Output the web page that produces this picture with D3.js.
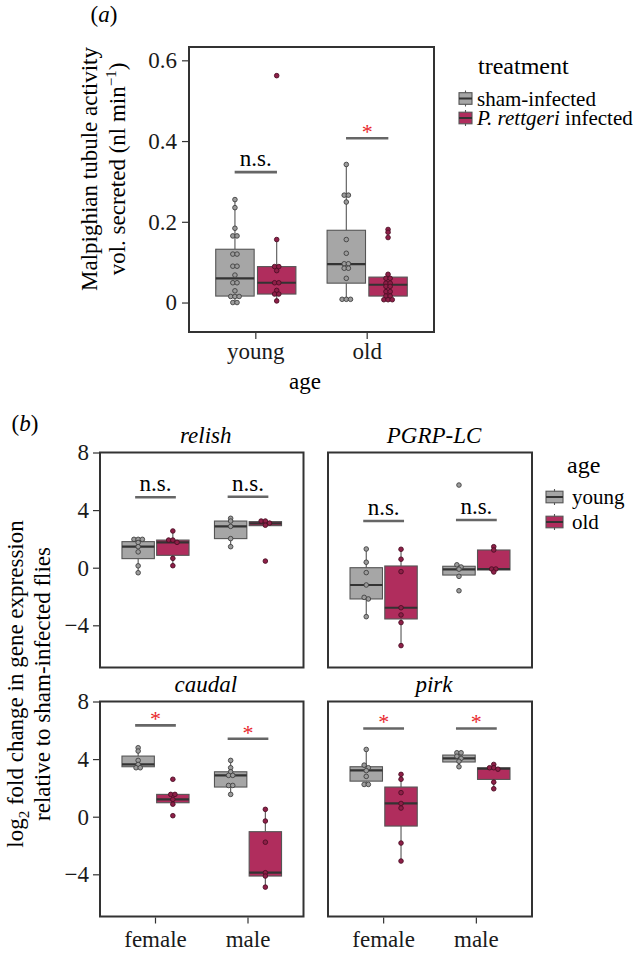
<!DOCTYPE html>
<html><head><meta charset="utf-8">
<script src="https://cdn.jsdelivr.net/npm/d3@7"></script>
<style>body{margin:0;background:#fff}svg{display:block}</style>
</head><body>
<svg id="c" width="638" height="954"></svg>
<script>
// ---------- data: panel (a) ----------
const ageCats = ["young", "old"];
const treatments = ["sham-infected", "P. rettgeri infected"];
const tubuleTicks = [0, 0.2, 0.4, 0.6];
// points
const tubuleYoungSham = [0.255, 0.235, 0.184, 0.165, 0.165, 0.12, 0.12, 0.09, 0.09, 0.068, 0.049, 0.049, 0.029, 0.015, 0.015, 0.015, 0.0, 0.0];
const tubuleYoungInf = [0.562, 0.156, 0.089, 0.089, 0.079, 0.049, 0.049, 0.030, 0.021, 0.021, 0.004];
const tubuleOldSham = [0.342, 0.266, 0.266, 0.249, 0.156, 0.122, 0.096, 0.096, 0.085, 0.085, 0.060, 0.008, 0.008, 0.008];
const tubuleOldInf = [0.181, 0.174, 0.161, 0.070, 0.060, 0.060, 0.048, 0.048, 0.040, 0.040, 0.027, 0.027, 0.016, 0.016, 0.007, 0.007, 0.007];
// box stats: [lower whisker, q1, median, q3, upper whisker]
const tubuleBoxYoungSham = [0.0, 0.016, 0.060, 0.132, 0.255];
const tubuleBoxYoungInf = [0.004, 0.021, 0.049, 0.089, 0.156];
const tubuleBoxOldSham = [0.008, 0.048, 0.095, 0.179, 0.342];
const tubuleBoxOldInf = [0.007, 0.016, 0.044, 0.063, 0.070];
const tubuleSigLabels = ["n.s.", "*"];
const tubuleSigY = [0.323, 0.407];

// ---------- data: panel (b) ----------
const genes = ["relish", "PGRP-LC", "caudal", "pirk"];
const sexes = ["female", "male"];
const ages = ["young", "old"];
const geneTicks = [-4, 0, 4, 8];
// order of groups: female-young, female-old, male-young, male-old
const relishPoints = [[1.97, 1.97, 1.97, 1.75, 1.46, 1.1, 0.13, -0.35], [2.55, 1.92, 1.92, 1.76, 0.65, 0.14], [3.43, 3.24, 2.87, 2.02, 1.46], [3.24, 3.24, 3.1, 2.95, 0.46]];
const relishBoxes = [[-0.35, 0.63, 1.46, 1.81, 1.97], [0.14, 0.86, 1.76, 1.92, 2.55], [1.46, 2.02, 2.87, 3.24, 3.43], [2.9, 2.92, 3.08, 3.2, 3.24]];
const pgrpPoints = [[1.3, 0.38, -0.34, -1.2, -2.06, -2.17, -3.4], [1.28, 0.59, -0.27, -2.78, -3.28, -3.81, -5.41], [5.74, 0.2, 0.05, -0.1, -0.6, -1.6], [1.46, 1.23, -0.09, -0.09, -0.3]];
const pgrpBoxes = [[-3.4, -2.17, -1.2, 0.0, 1.3], [-5.41, -3.56, -2.78, 0.12, 1.28], [-0.6, -0.51, -0.11, 0.1, 0.2], [-0.3, -0.16, -0.09, 1.23, 1.46]];
const caudalPoints = [[4.79, 4.56, 3.91, 3.63, 3.4, 3.4], [2.6, 1.55, 1.55, 1.2, 0.87, 0.07], [3.91, 3.4, 3.12, 2.87, 2.87, 2.17, 2.17, 1.55], [0.51, -0.3, -1.77, -3.89, -4.12, -4.89]];
const caudalBoxes = [[3.4, 3.47, 3.63, 4.21, 4.79], [0.87, 0.97, 1.2, 1.55, 1.55], [1.55, 2.06, 2.87, 3.12, 3.91], [-4.89, -4.12, -3.89, -1.04, 0.51]];
const pirkPoints = [[4.67, 3.58, 3.4, 3.2, 2.8, 2.24, 2.24], [2.94, 2.6, 1.67, 0.92, 0.6, -1.83, -3.08], [4.44, 4.44, 4.2, 4.05, 3.85, 3.47], [3.63, 3.4, 3.4, 3.3, 2.4, 1.94]];
const pirkBoxes = [[2.24, 2.47, 3.22, 3.47, 4.67], [-3.08, -0.65, 0.92, 2.06, 2.94], [3.47, 3.8, 4.05, 4.28, 4.44], [1.94, 2.59, 3.33, 3.4, 3.63]];
const geneSigLabels = [["n.s.", "n.s."], ["n.s.", "n.s."], ["*", "*"], ["*", "*"]];
const geneSigY = [[4.89, 4.93], [3.24, 3.31], [6.34, 5.41], [6.13, 6.13]];

// ---------- styles ----------
const FONT = '"Liberation Serif", monospace';
const fills = ["#a6a6a6", "#b02d5d"];
const ptFill = ["#9c9c9c", "#8e1f48"];
const ptStroke = ["#3f3f3f", "#4d0f25"];
const boxStroke = "#555555";
const medStroke = "#333333";
const sigStroke = "#666666";
const starCol = "#e8262b";

const svg = d3.select("#c");
svg.append("rect").attr("width", 638).attr("height", 954).attr("fill", "#fff");

function txt(g, x, y, size, s) {
  return g.append("text").attr("x", x).attr("y", y).attr("font-size", size)
    .attr("font-family", FONT).text(s);
}

function swarm(vals, y, spacing) {
  const items = vals.map((v, i) => ({ v, i, py: y(v) })).sort((a, b) => a.py - b.py);
  const offs = new Array(vals.length).fill(0);
  let row = [];
  const flush = () => {
    const n = row.length;
    row.forEach((it, k) => { offs[it.i] = (k - (n - 1) / 2) * spacing; });
    row = [];
  };
  items.forEach(it => {
    if (row.length && it.py - row[0].py > 2.6) flush();
    row.push(it);
  });
  flush();
  return offs;
}

function drawBox(g, cx, w, y, st, ti, pts, spacing) {
  g.append("line").attr("x1", cx).attr("x2", cx).attr("y1", y(st[0])).attr("y2", y(st[1]))
    .attr("stroke", boxStroke).attr("stroke-width", 1.1);
  g.append("line").attr("x1", cx).attr("x2", cx).attr("y1", y(st[3])).attr("y2", y(st[4]))
    .attr("stroke", boxStroke).attr("stroke-width", 1.1);
  g.append("rect").attr("x", cx - w / 2).attr("width", w)
    .attr("y", y(st[3])).attr("height", Math.max(0.5, y(st[1]) - y(st[3])))
    .attr("fill", fills[ti]).attr("stroke", boxStroke).attr("stroke-width", 1.1);
  g.append("line").attr("x1", cx - w / 2).attr("x2", cx + w / 2).attr("y1", y(st[2])).attr("y2", y(st[2]))
    .attr("stroke", medStroke).attr("stroke-width", 2.2);
  const offs = swarm(pts, y, spacing);
  g.selectAll(null).data(pts).enter().append("circle")
    .attr("cx", (d, i) => cx + offs[i]).attr("cy", d => y(d)).attr("r", 2.3)
    .attr("fill", ptFill[ti]).attr("stroke", ptStroke[ti]).attr("stroke-width", 0.9);
}

function sig(g, x1, x2, yy, label) {
  g.append("line").attr("x1", x1).attr("x2", x2).attr("y1", yy).attr("y2", yy)
    .attr("stroke", sigStroke).attr("stroke-width", 2.6);
  if (label === "*") {
    txt(g, (x1 + x2) / 2, yy + 1, 22, "*").attr("text-anchor", "middle").attr("fill", starCol);
  } else {
    txt(g, (x1 + x2) / 2, yy - 6, 23, label).attr("text-anchor", "middle").attr("fill", "#000");
  }
}

// custom axis drawing via d3 axis generators, text restyled afterwards
function styleAxis(ax, fs) {
  ax.attr("font-family", FONT).attr("font-size", fs);
  ax.select(".domain").remove();
  ax.selectAll(".tick line").attr("stroke", "#333").attr("stroke-width", 1.2);
  ax.selectAll(".tick text").attr("font-family", FONT).attr("font-size", fs).attr("fill", "#1a1a1a");
}

// ---------- panel (a) ----------
const aL = 189, aR = 434, aT = 47, aB = 332;
const xa = d3.scaleBand().domain(ageCats).range([aL, aR]).paddingInner(0).paddingOuter(0.1);
const bwA = xa.bandwidth();
const xaSub = d3.scaleBand().domain(treatments).range([-0.375 * bwA, 0.375 * bwA]);
const ya = d3.scaleLinear().domain([-0.073, 0.633]).range([aB, aT]);
const gA = svg.append("g");

const tubulePoints = [[tubuleYoungSham, tubuleYoungInf], [tubuleOldSham, tubuleOldInf]];
const tubuleBoxes = [[tubuleBoxYoungSham, tubuleBoxYoungInf], [tubuleBoxOldSham, tubuleBoxOldInf]];
ageCats.forEach((a, ai) => {
  treatments.forEach((t, ti) => {
    const cx = xa(a) + bwA / 2 + xaSub(t) + xaSub.bandwidth() / 2;
    drawBox(gA, cx, 0.345 * bwA, ya, tubuleBoxes[ai][ti], ti, tubulePoints[ai][ti], 4.2);
  });
  const c = xa(a) + bwA / 2;
  sig(gA, c - 0.19 * bwA, c + 0.19 * bwA, ya(tubuleSigY[ai]), tubuleSigLabels[ai]);
});
gA.append("rect").attr("x", aL).attr("y", aT).attr("width", aR - aL).attr("height", aB - aT)
  .attr("fill", "none").attr("stroke", "#333").attr("stroke-width", 2);
const axA = gA.append("g").attr("transform", `translate(${aL - 1},0)`)
  .call(d3.axisLeft(ya).tickValues(tubuleTicks).tickSize(6).tickPadding(5)
    .tickFormat(d => d === 0 ? "0" : d3.format(".1f")(d)));
styleAxis(axA, 23);
const axAx = gA.append("g").attr("transform", `translate(0,${aB + 1})`)
  .call(d3.axisBottom(xa).tickSize(6).tickPadding(4));
styleAxis(axAx, 23);
axAx.selectAll(".tick text").attr("dy", null).attr("y", 26);
txt(gA, 305, 389, 23, "age").attr("text-anchor", "middle");
// y label
gA.append("text").attr("transform", "translate(97,169) rotate(-90)")
  .attr("text-anchor", "middle").attr("font-family", FONT).attr("font-size", 23)
  .text("Malpighian tubule activity");
const ylA2 = gA.append("text").attr("transform", "translate(125,169) rotate(-90)")
  .attr("text-anchor", "middle").attr("font-family", FONT).attr("font-size", 23);
ylA2.append("tspan").text("vol. secreted (nl min");
ylA2.append("tspan").attr("font-size", 15).attr("dy", -9).text("\u22121");
ylA2.append("tspan").attr("dy", 9).text(")");
// panel label
const la = txt(gA, 104, 22, 23, null).attr("text-anchor", "middle");
la.append("tspan").text("(");
la.append("tspan").attr("font-style", "italic").text("a");
la.append("tspan").text(")");
// legend (a)
const legA = gA.append("g");
txt(legA, 478, 74, 24, "treatment");
function legendKey(g, cx, cy, w, ti) {
  g.append("line").attr("x1", cx).attr("x2", cx).attr("y1", cy - 8).attr("y2", cy + 8)
    .attr("stroke", boxStroke).attr("stroke-width", 1.1);
  g.append("rect").attr("x", cx - w / 2).attr("y", cy - 5.8).attr("width", w).attr("height", 11.6)
    .attr("fill", fills[ti]).attr("stroke", boxStroke).attr("stroke-width", 1.1);
  g.append("line").attr("x1", cx - w / 2).attr("x2", cx + w / 2).attr("y1", cy).attr("y2", cy)
    .attr("stroke", medStroke).attr("stroke-width", 2);
}
treatments.forEach((t, i) => {
  const cy = 98.5 + i * 19.5;
  legendKey(legA, 465.5, cy, 13, i);
  const tx = txt(legA, 477, cy + 7, 21, null);
  if (i === 0) tx.text(t);
  else {
    tx.append("tspan").attr("font-style", "italic").text("P. rettgeri");
    tx.append("tspan").text(" infected");
  }
});

// ---------- panel (b) ----------
const colL = [100, 328], colR = [303.5, 532];
const rowT = [452.5, 701.5], rowB = [667.5, 916.5];
const genePoints = [relishPoints, pgrpPoints, caudalPoints, pirkPoints];
const geneBoxes = [relishBoxes, pgrpBoxes, caudalBoxes, pirkBoxes];
const gB = svg.append("g");
genes.forEach((gene, gi) => {
  const col = gi % 2, row = Math.floor(gi / 2);
  const x = d3.scaleBand().domain(sexes).range([colL[col], colR[col]]).paddingInner(0).paddingOuter(0.1);
  const bw = x.bandwidth();
  const xs = d3.scaleBand().domain(ages).range([-0.375 * bw, 0.375 * bw]);
  const y = d3.scaleLinear().domain([-6.93, 8]).range([rowB[row], rowT[row]]);
  const g = gB.append("g");
  sexes.forEach((s, si) => {
    ages.forEach((a, ai) => {
      const cx = x(s) + bw / 2 + xs(a) + xs.bandwidth() / 2;
      drawBox(g, cx, 0.35 * bw, y, geneBoxes[gi][si * 2 + ai], ai, genePoints[gi][si * 2 + ai], 4.2);
    });
    const c = x(s) + bw / 2;
    sig(g, c - 0.22 * bw, c + 0.22 * bw, y(geneSigY[gi][si]), geneSigLabels[gi][si]);
  });
  g.append("rect").attr("x", colL[col]).attr("y", rowT[row]).attr("width", colR[col] - colL[col])
    .attr("height", rowB[row] - rowT[row]).attr("fill", "none").attr("stroke", "#333").attr("stroke-width", 2);
  txt(g, (colL[col] + colR[col]) / 2 + 4, rowT[row] - 9.5, 23, gene)
    .attr("text-anchor", "middle").attr("font-style", "italic");
  if (col === 0) {
    const ax = g.append("g").attr("transform", `translate(${colL[col] - 1},0)`)
      .call(d3.axisLeft(y).tickValues(geneTicks).tickSize(6).tickPadding(4)
        .tickFormat(d => d < 0 ? "\u2212" + Math.abs(d) : String(d)));
    styleAxis(ax, 23);
  }
  if (row === 1) {
    const ax = g.append("g").attr("transform", `translate(0,${rowB[row] + 1})`)
      .call(d3.axisBottom(x).tickSize(6).tickPadding(4));
    styleAxis(ax, 23);
    ax.selectAll(".tick text").attr("dy", null).attr("y", 29);
  }
});
// y label (b)
const ylB = gB.append("text").attr("transform", "translate(23,684) rotate(-90)")
  .attr("text-anchor", "middle").attr("font-family", FONT).attr("font-size", 23);
ylB.append("tspan").text("log");
ylB.append("tspan").attr("font-size", 15).attr("dy", 6).text("2");
ylB.append("tspan").attr("dy", -6).text(" fold change in gene expression");
gB.append("text").attr("transform", "translate(50,684) rotate(-90)")
  .attr("text-anchor", "middle").attr("font-family", FONT).attr("font-size", 23)
  .text("relative to sham-infected flies");
// panel label
const lb = txt(gB, 25, 431, 23, null).attr("text-anchor", "middle");
lb.append("tspan").text("(");
lb.append("tspan").attr("font-style", "italic").text("b");
lb.append("tspan").text(")");
// legend (b)
const legB = gB.append("g");
txt(legB, 567, 473, 24, "age");
ages.forEach((a, i) => {
  const cy = 497 + i * 25;
  legendKey(legB, 554.5, cy, 17, i);
  txt(legB, 572, cy + 6.5, 21, a);
});
</script>
</body></html>
